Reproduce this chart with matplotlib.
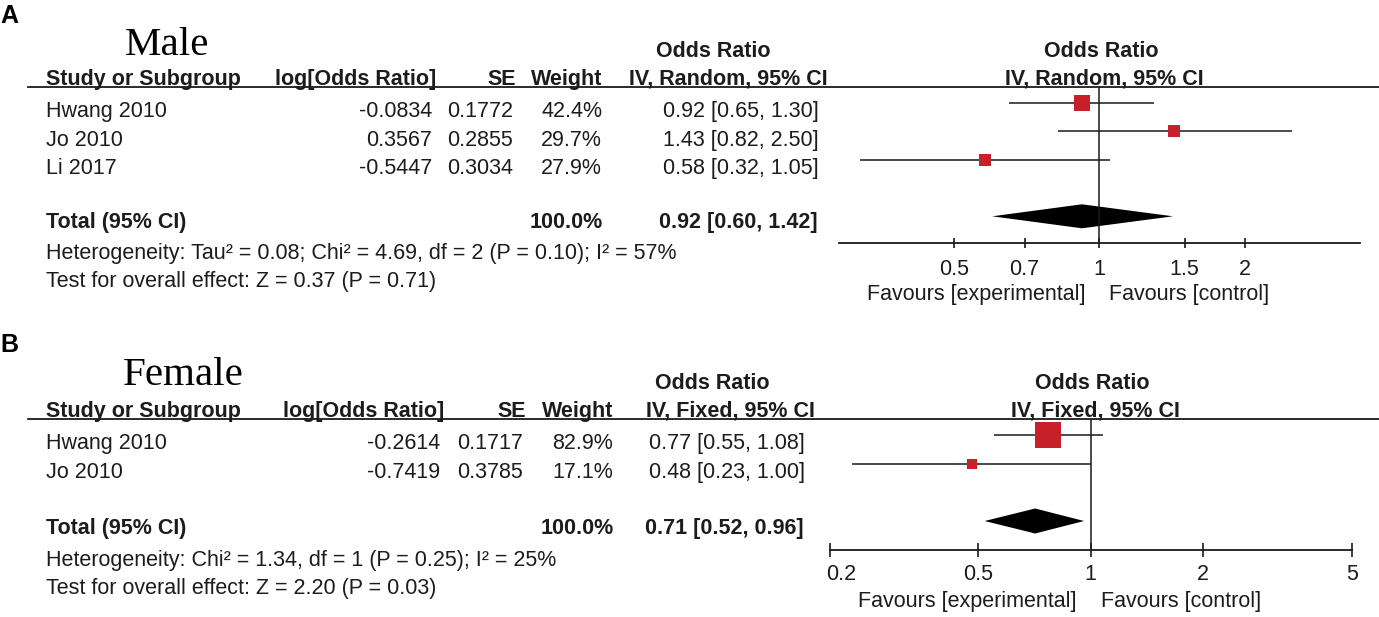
import matplotlib
matplotlib.use('Agg')
import numpy as np
from matplotlib import pyplot as plt
from matplotlib.lines import Line2D
from matplotlib.ticker import NullLocator
from matplotlib import transforms

# ---- data ----
male_studies = ['Hwang 2010', 'Jo 2010', 'Li 2017']
male_log_or = [-0.0834, 0.3567, -0.5447]
male_se = [0.1772, 0.2855, 0.3034]
male_weight = [42.4, 29.7, 27.9]
male_or = [0.92, 1.43, 0.58]
male_lo = [0.65, 0.82, 0.32]
male_hi = [1.30, 2.50, 1.05]
male_total = [0.92, 0.60, 1.42]
male_het = 'Heterogeneity: Tau\u00b2 = 0.08; Chi\u00b2 = 4.69, df = 2 (P = 0.10); I\u00b2 = 57%'
male_test = 'Test for overall effect: Z = 0.37 (P = 0.71)'
male_ticks = [0.5, 0.7, 1, 1.5, 2]
male_tick_labels = ['0.5', '0.7', '1', '1.5', '2']

female_studies = ['Hwang 2010', 'Jo 2010']
female_log_or = [-0.2614, -0.7419]
female_se = [0.1717, 0.3785]
female_weight = [82.9, 17.1]
female_or = [0.77, 0.48]
female_lo = [0.55, 0.23]
female_hi = [1.08, 1.00]
female_total = [0.71, 0.52, 0.96]
female_het = 'Heterogeneity: Chi\u00b2 = 1.34, df = 1 (P = 0.25); I\u00b2 = 25%'
female_test = 'Test for overall effect: Z = 2.20 (P = 0.03)'
female_ticks = [0.2, 0.5, 1, 2, 5]
female_tick_labels = ['0.2', '0.5', '1', '2', '5']

W, H = 1379, 617
FS = 15.5
TXT = '#1c1c1c'
RED = '#C8202A'
plt.rcParams['font.family'] = ['Liberation Sans', 'DejaVu Sans']

fig = plt.figure(figsize=(W / 100, H / 100), dpi=100)


def fx(x):
    return x / W


def fy(y):
    return 1 - y / H


def put(x, y, s, ha='left', bold=False, **kw):
    fig.text(fx(x), fy(y), s, ha=ha, va='baseline', fontsize=kw.pop('size', FS),
             fontweight='bold' if bold else 'normal', color=kw.pop('color', TXT), **kw)


def panel(studies, log_or, se, weight, orr, lo, hi, total, het, test, ticks, tick_labels,
          letter, title, method, lay):
    put(0, lay['letter'], letter, bold=True, size=18, color='black')
    put(lay['title_x'], lay['title'], title, ha='center', size=29.5, color='black',
        family=['Liberation Serif', 'DejaVu Serif'])

    # table header
    put(lay['or_x'], lay['or'], 'Odds Ratio', ha='center', bold=True)
    put(46, lay['head'], 'Study or Subgroup', bold=True)
    put(lay['c_lor'] + 4, lay['head'], 'log[Odds Ratio]', ha='right', bold=True)
    put(lay['c_se'] + 3, lay['head'], 'SE', ha='right', bold=True)
    put(lay['c_w'], lay['head'], 'Weight', ha='right', bold=True)
    put(lay['c_ci_h'], lay['head'], 'IV, %s, 95%% CI' % method, ha='right', bold=True)
    fig.add_artist(Line2D([fx(28), fx(W)], [fy(lay['line'])] * 2,
                          transform=fig.transFigure, color='#1a1a1a', lw=1.3))

    for i, name in enumerate(studies):
        yb = lay['rows'][i]
        put(46, yb, name)
        put(lay['c_lor'], yb, '%.4f' % log_or[i], ha='right')
        put(lay['c_se'], yb, '%.4f' % se[i], ha='right')
        put(lay['c_w'], yb, '%.1f%%' % weight[i], ha='right')
        put(lay['c_ci'], yb, '%.2f [%.2f, %.2f]' % (orr[i], lo[i], hi[i]), ha='right')

    put(46, lay['total'], 'Total (95% CI)', bold=True)
    put(lay['c_w'] + 1, lay['total'], '%.1f%%' % sum(weight), ha='right', bold=True)
    put(lay['c_ci'] - 1, lay['total'], '%.2f [%.2f, %.2f]' % tuple(total), ha='right', bold=True)
    put(46, lay['het'], het)
    put(46, lay['test'], test)

    # forest plot, y in pixel rows
    x0, x1, y0, y1 = lay['ax']
    ax = fig.add_axes([fx(x0), fy(y1), (x1 - x0) / W, (y1 - y0) / H])
    ax.set_xscale('log')
    ax.set_xlim(*lay['xlim'])
    ax.set_ylim(y1, y0)
    ax.patch.set_alpha(0)
    for s in ['top', 'left', 'right']:
        ax.spines[s].set_visible(False)
    ax.spines['bottom'].set_linewidth(1.3)
    ax.spines['bottom'].set_color('#1a1a1a')
    ax.set_yticks([])
    ax.set_xticks(ticks)
    ax.set_xticklabels([])
    ax.xaxis.set_minor_locator(NullLocator())
    ax.tick_params(axis='x', direction='inout', length=lay['tick_len'], width=1.2, color='#1a1a1a')
    ax.axvline(1, color='#1a1a1a', lw=1.1)

    for i in range(len(studies)):
        yr = lay['frows'][i]
        ax.plot([lo[i], hi[i]], [yr, yr], color='#1a1a1a', lw=1.1, solid_capstyle='butt')
        size_px = 4.5 + 0.27 * weight[i]
        ax.plot(orr[i], yr, marker='s', ms=size_px * 0.72, color=RED, mew=0)

    est, dlo, dhi = total
    yd, hd = lay['diamond'], lay['dh'] / 2
    ax.fill([dlo, est, dhi, est], [yd, yd - hd, yd, yd + hd], color='black', lw=0)

    for t, lab in zip(ticks, tick_labels):
        if t <= lay['xlim'][0]:
            # the label at the left end sits inside the axis
            off = transforms.offset_copy(ax.transData, fig=fig, x=-4, y=0, units='dots')
            ax.text(t, lay['tick_base'], lab, ha='left', va='baseline', fontsize=FS,
                    color=TXT, transform=off)
        else:
            ax.text(t, lay['tick_base'], lab, ha='center', va='baseline', fontsize=FS, color=TXT)
    xr = ax.transData.transform((1, 0))[0]
    put(xr - 14, lay['fav'], 'Favours [experimental]', ha='right')
    put(xr + 10, lay['fav'], 'Favours [control]')
    put(xr + 2, lay['or'], 'Odds Ratio', ha='center', bold=True)
    put(xr + 5, lay['head'], 'IV, %s, 95%% CI' % method, ha='center', bold=True)


top = dict(letter=23, title_x=167, title=55, or_x=713, head=85, line=87,
           rows=[116.7, 146, 174], total=228, het=259, test=287,
           c_lor=432, c_se=513, c_w=602, c_ci=819, c_ci_h=828,
           ax=(838.9, 1359.7, 87, 243.3), xlim=(0.289, 3.456), tick_len=7.6,
           frows=[103, 131, 160], diamond=216.3, dh=24, tick_base=275, fav=300)
top['or'] = 57

bottom = dict(letter=351.7, title_x=183, title=385, or_x=712, head=416.7, line=419,
              rows=[449, 478], total=534, het=565.7, test=594,
              c_lor=440, c_se=523, c_w=613, c_ci=805, c_ci_h=815,
              ax=(829.7, 1351.7, 419, 550), xlim=(0.2, 5), tick_len=10,
              frows=[435, 463.5], diamond=521, dh=25, tick_base=580, fav=607)
bottom['or'] = 389

panel(male_studies, male_log_or, male_se, male_weight, male_or, male_lo, male_hi,
      male_total, male_het, male_test, male_ticks, male_tick_labels, 'A', 'Male', 'Random', top)
panel(female_studies, female_log_or, female_se, female_weight, female_or, female_lo, female_hi,
      female_total, female_het, female_test, female_ticks, female_tick_labels, 'B', 'Female', 'Fixed',
      bottom)

fig.savefig('out.png', dpi=100, facecolor='white')
